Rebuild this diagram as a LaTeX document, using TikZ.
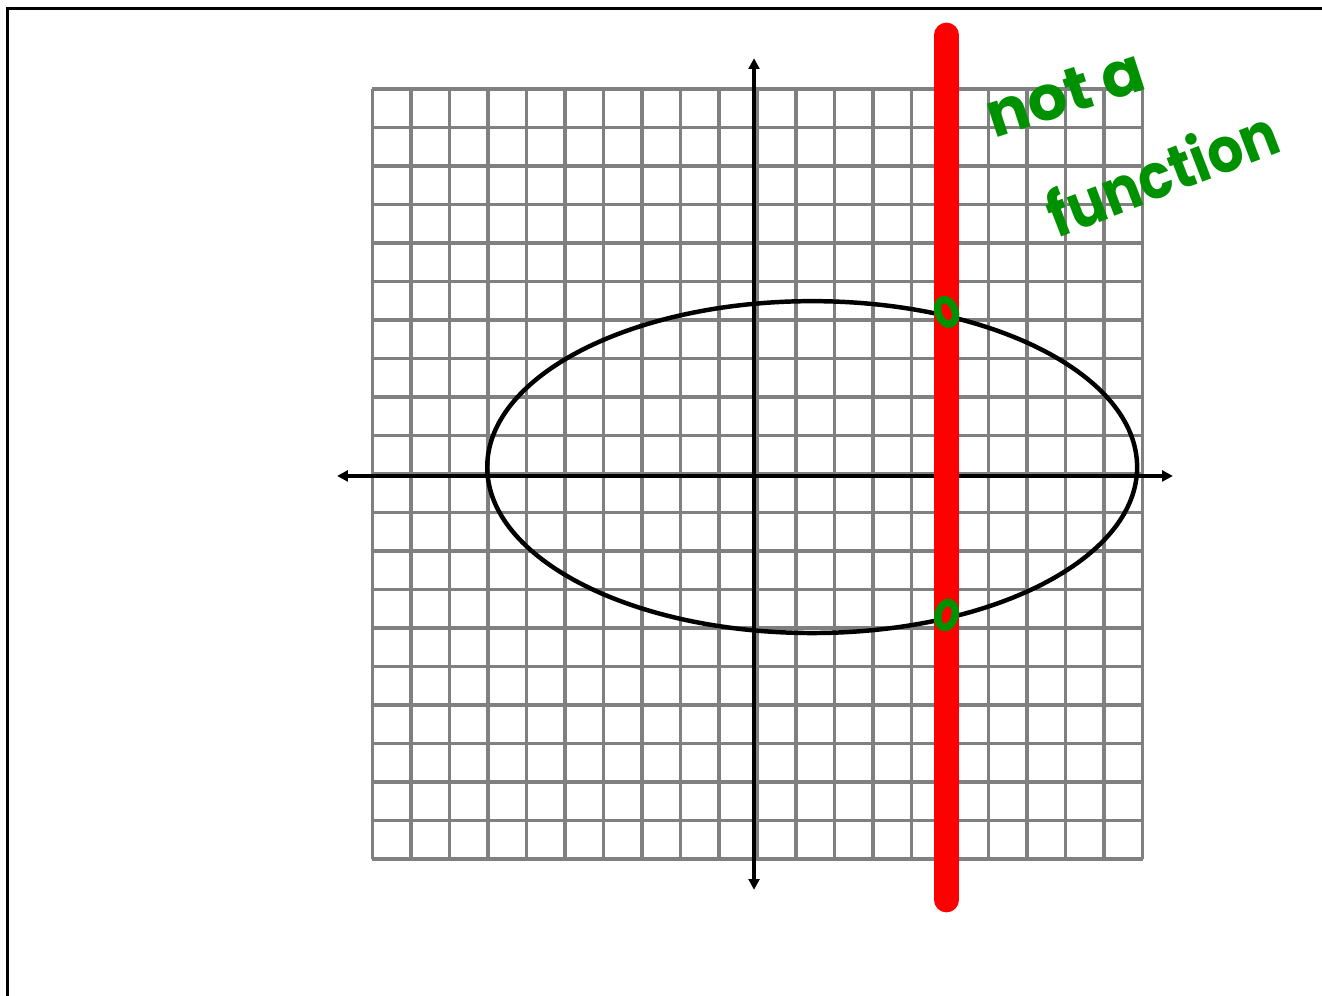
\documentclass[tikz,border=0pt]{standalone}
\usepackage{fontspec}
\setmainfont{Poppins}
\usepackage{tikz}
\usetikzlibrary{arrows.meta}

\definecolor{penred}{RGB}{255,0,0}
\definecolor{pengreen}{RGB}{0,145,0}
\definecolor{gridgray}{RGB}{128,128,128}

\begin{document}
\begin{tikzpicture}[
    gridlines/.style={draw=gridgray, line width=2.4pt},
    axisline/.style={{Triangle[length=2.8mm, width=2.8mm]}-{Triangle[length=2.8mm, width=2.8mm]}, line width=3.2pt},
    ellipseline/.style={line width=3.3pt},
    testline/.style={draw=penred, line width=18.5pt, line cap=round},
    hitdot/.style={draw=pengreen, line width=5.5pt},
    note/.style={text=pengreen, font=\fontsize{46}{50}\selectfont\bfseries, inner sep=0pt}
]
\useasboundingbox (-19.675,-13.532) rectangle (14.662,12.312);

% page frame
\draw[line width=2.2pt] (-19.47,-13.6) -- (-19.47,12.10) -- (14.7,12.10);

% grid and axes
\draw[gridlines] (-10,-10) grid (10,10);
\draw[axisline] (-10.92,-0.05) -- (10.79,-0.05);
\draw[axisline] (-0.09,-10.8) -- (-0.09,10.8);

% the relation
\draw[ellipseline] (1.42,0.18) ellipse [x radius=8.44, y radius=4.31];

% vertical line test
\coordinate (vtop) at (4.91,11.4);
\coordinate (vbot) at (4.91,-11.06);
\draw[testline] (vtop) -- (vbot);
\draw[hitdot, rotate around={20:(4.91,4.21)}] (4.91,4.21) ellipse [x radius=0.22, y radius=0.33];
\draw[hitdot, rotate around={-15:(4.91,-3.66)}] (4.91,-3.66) ellipse [x radius=0.22, y radius=0.33];

\node[note, rotate=18] (nota) at (7.99,9.9) {not a};
\node[note, rotate=21, xscale=0.9] (func) at (10.5,7.85) {function};

\end{tikzpicture}
\end{document}
